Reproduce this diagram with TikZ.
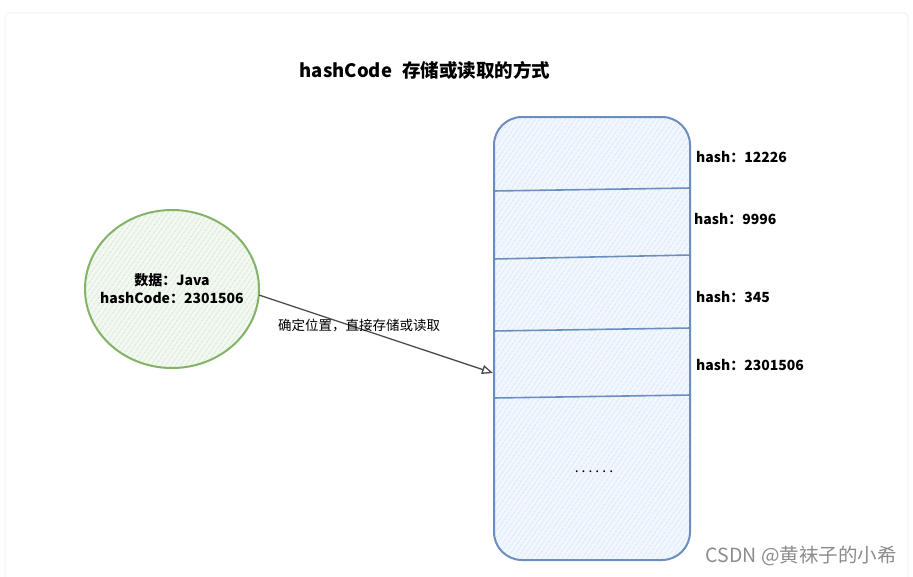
\documentclass[tikz,border=0pt]{standalone}
\usepackage{fontspec}
\setmainfont{Noto Sans CJK SC}
\usetikzlibrary{arrows.meta,patterns.meta,shapes.geometric}
\definecolor{gstroke}{HTML}{82B366}
\definecolor{gfill}{HTML}{BEDCB9}
\definecolor{bstroke}{HTML}{6C8EBF}
\definecolor{bfill}{HTML}{C4DAF6}
\definecolor{wm}{HTML}{8C8C8C}
\tikzset{
  txt/.style={font=\fontsize{#1}{#1}\selectfont\bfseries, text=black, inner sep=0pt},
  hatchg/.style={preaction={fill=gfill!18}, pattern={Lines[angle=55,distance=4pt,line width=0.8pt]}, pattern color=gfill},
  hatchb/.style={preaction={fill=bfill!22}, pattern={Lines[angle=55,distance=4pt,line width=0.8pt]}, pattern color=bfill},
  conn/.style={draw=black!70, line width=1.3pt, -{Triangle[open,length=11pt,width=9pt]}},
  divider/.style={draw=bstroke, line width=1.6pt},
}
\begin{document}
\begin{tikzpicture}[x=1pt,y=-1pt]
\useasboundingbox (0,0) rectangle (913,576);
% faint page frame
\draw[black!5, line width=1pt, rounded corners=4] (5,600) -- (5,13) -- (908,13) -- (908,600);
% title
\node[txt=18.5] (title) at (425,70) {hashCode\hspace{6pt} 存储或读取的方式};
% circle
\node[ellipse, draw=gstroke, line width=2pt, minimum width=174, minimum height=158, inner sep=0pt, hatchg] (c) at (172,289) {};
\node[txt=14, align=center] (ctext) at (172,289) {数据：Java\\[4pt]hashCode：2301506};
% array column
\node[draw=bstroke, line width=2pt, rounded corners=28, minimum width=196, minimum height=443, inner sep=0pt, hatchb] (arr) at (592,338.5) {};
\draw[divider] (arr.west |- 0,191) -- (arr.east |- 0,188);
\draw[divider] (arr.west |- 0,259) -- (arr.east |- 0,255);
\draw[divider] (arr.west |- 0,331) -- (arr.east |- 0,328);
\draw[divider] (arr.west |- 0,398) -- (arr.east |- 0,395);
\node[txt=14, anchor=west] (h1) at (696,157) {hash：12226};
\node[txt=14, anchor=west] (h2) at (694,219) {hash：9996};
\node[txt=14, anchor=west] (h3) at (696,297) {hash：345};
\node[txt=14, anchor=west] (h4) at (696,365) {hash：2301506};
\node[font=\fontsize{14}{14}\selectfont, inner sep=0pt] (dots) at (594,472) {.\hspace{3pt}.\hspace{3pt}.\hspace{3pt}.\hspace{3pt}.\hspace{3pt}.};
% arrow
\coordinate (tgt) at (493,373);
\draw[conn] (c.-4) -- (tgt);
\node[font=\fontsize{13.5}{14}\selectfont, inner sep=0pt] (lbl) at (359,325) {确定位置，直接存储或读取};
% watermark
\node[font=\fontsize{19.5}{20}\selectfont, text=wm, anchor=east, inner sep=0pt] (wmk) at (897,556) {CSDN @黄袜子的小希};
\end{tikzpicture}
\end{document}
